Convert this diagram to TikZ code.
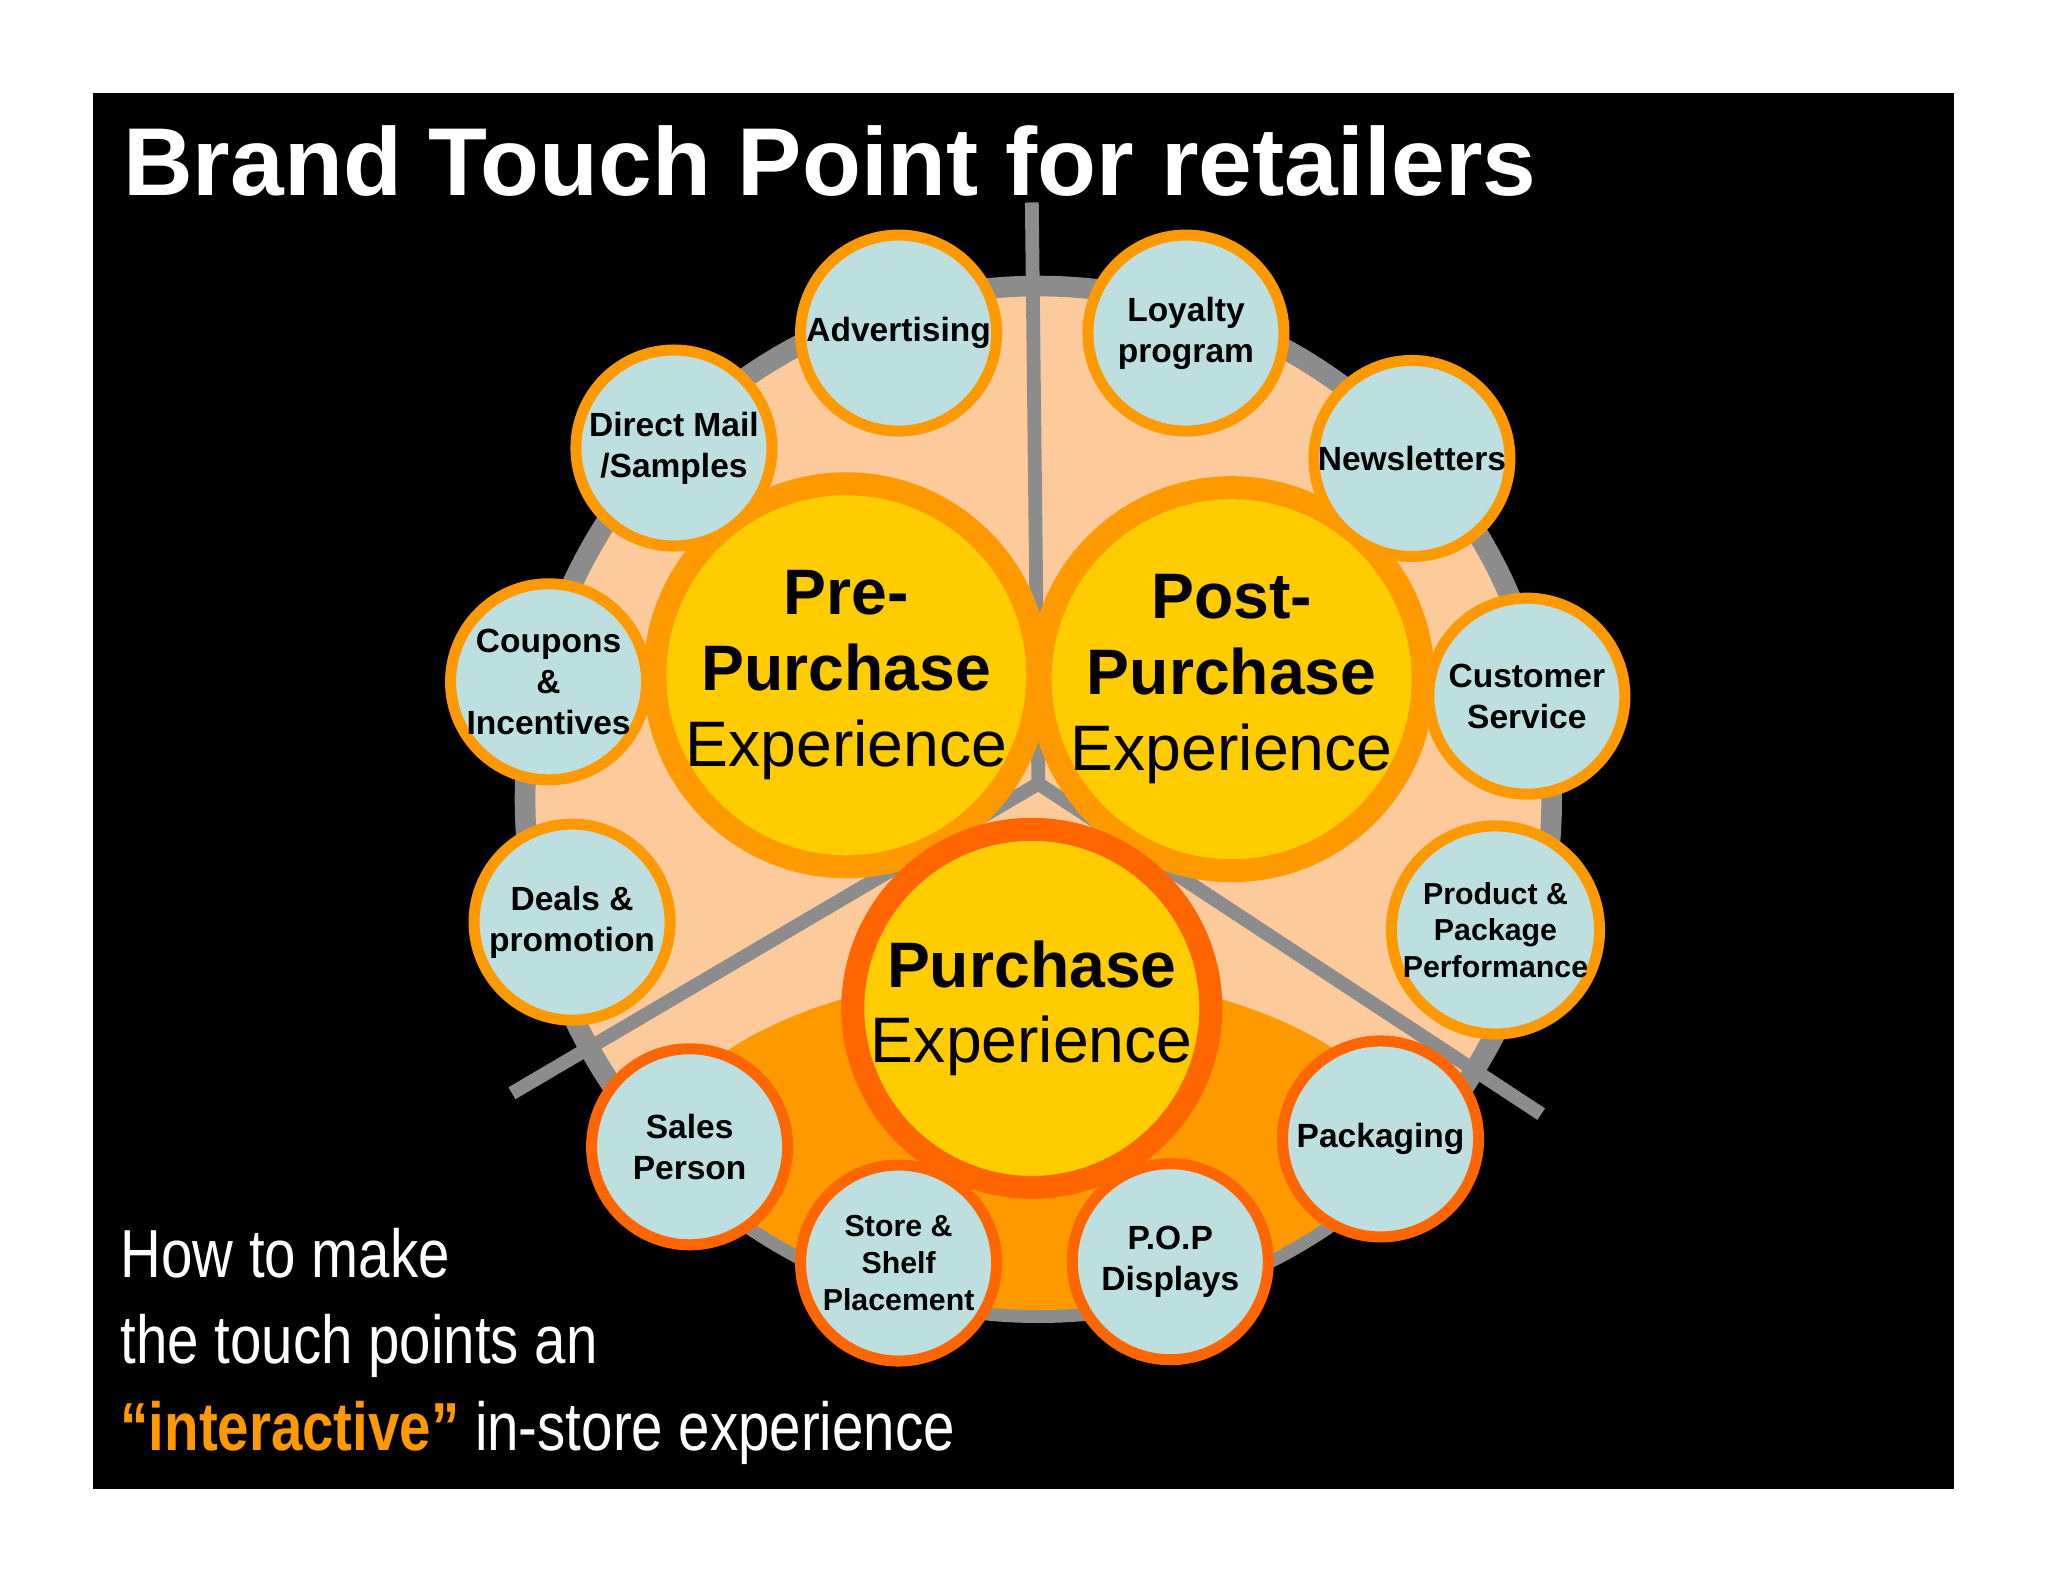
\documentclass[tikz,border=0pt]{standalone}
\usepackage{fontspec}
\usepackage{graphicx}
\setmainfont{Liberation Sans}
\definecolor{peach}{HTML}{FDCB9B}
\definecolor{org}{HTML}{FF9900}
\definecolor{dorg}{HTML}{FF6600}
\definecolor{yel}{HTML}{FFCC00}
\definecolor{lblue}{HTML}{BEDFE0}
\definecolor{gr}{HTML}{8C8C8C}
\begin{document}
\begin{tikzpicture}[x=0.01cm,y=-0.01cm,
 small/.style={circle,draw=org,line width=2.4pt,fill=lblue,minimum size=1.5cm,inner sep=0pt,align=center,font=\bfseries\fontsize{7.3}{9}\selectfont},
 smalld/.style={small,draw=dorg},
 big/.style={circle,draw=org,line width=5pt,fill=yel,minimum size=2.74cm,inner sep=0pt,align=center,font=\fontsize{14}{16.5}\selectfont},
 bigd/.style={big,draw=dorg}]
\fill[white] (0,0) rectangle (1568,1211);
\useasboundingbox (0,0) rectangle (1568,1211);
\fill[black] (71,71) rectangle (1496,1140);
\node[anchor=west,text=white,font=\bfseries\fontsize{21}{25}\selectfont] (title) at (82,123) {Brand Touch Point for retailers};
\fill[peach,draw=gr,line width=4.5pt] (795,612) circle (393);
\begin{scope}
\clip (795,612) circle (391);
\fill[org] (790,905) ellipse (300 and 160);
\end{scope}
\coordinate (c) at (795,600);
\coordinate (t1) at (790,155);
\coordinate (t2) at (392,837);
\coordinate (t3) at (1180,853);
\draw[gr,line width=3pt] (c)--(t1) (c)--(t2) (c)--(t3);
\node[big] (pre) at (648,517) {\textbf{Pre-}\\\textbf{Purchase}\\Experience};
\node[big] (post) at (943,520) {\textbf{Post-}\\\textbf{Purchase}\\Experience};
\node[bigd] (pur) at (790,772) {\textbf{Purchase}\\Experience};
\node[small] (adv) at (688,255) {Advertising};
\node[small] (loy) at (908,255) {Loyalty\\program};
\node[small] (dm) at (516,343) {Direct Mail\\/Samples};
\node[small] (news) at (1081,351) {Newsletters};
\node[small] (coup) at (420,522) {Coupons\\\&\\Incentives};
\node[small] (cs) at (1169,533) {Customer\\Service};
\node[small] (deals) at (438,706) {Deals \&\\promotion};
\node[small,font=\bfseries\fontsize{6.6}{8}\selectfont] (prod) at (1145,712) {Product \&\\Package\\Performance};
\node[smalld] (sales) at (528,878) {Sales\\Person};
\node[smalld] (pack) at (1057,872) {Packaging};
\node[smalld,font=\bfseries\fontsize{6.6}{8}\selectfont] (store) at (688,967) {Store \&\\Shelf\\Placement};
\node[smalld] (pop) at (896,966) {P.O.P\\Displays};
\node[anchor=north west,text=white,align=left,font=\fontsize{14.8}{18.8}\selectfont] (how) at (80,928)
 {\scalebox{0.83}[1]{How to make}\\\scalebox{0.83}[1]{the touch points an}\\\scalebox{0.83}[1]{\textcolor{org}{\textbf{“interactive”}} in-store experience}};
\end{tikzpicture}
\end{document}
